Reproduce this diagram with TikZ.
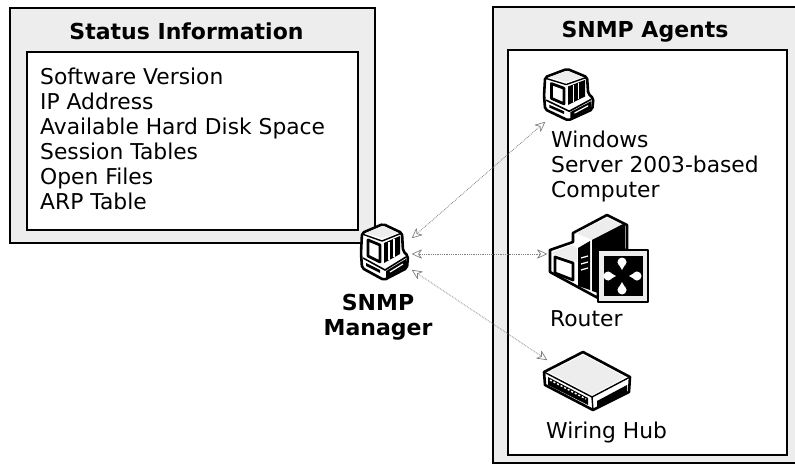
\documentclass[tikz,border=0pt]{standalone}
\usepackage{fontspec}
\setmainfont{DejaVu Sans}
\usetikzlibrary{arrows.meta}
\definecolor{bandgray}{gray}{0.93}
\tikzset{
  x=1pt,y=-1pt,
  band/.style={fill=bandgray,draw=black,line width=1.8pt},
  panel/.style={fill=white,draw=black,line width=2pt},
  titletext/.style={font=\fontsize{22}{25}\selectfont\bfseries,inner sep=0pt},
  bodytext/.style={font=\fontsize{21.8}{25}\selectfont,inner sep=0pt,align=left,text=black},
  anchorbox/.style={inner sep=0pt,outer sep=0pt,minimum width=#1},
  link/.style={draw=black!50,line width=0.8pt,densely dotted,
    {Stealth[open,length=11pt,width=10pt,line width=0.7pt,round]}-{Stealth[open,length=11pt,width=10pt,line width=0.7pt,round]}},
  iconline/.style={draw=black,line width=2.6pt,line join=round},
  computer/.pic={
    \path[iconline,fill=white,rounded corners=2pt] (2,10)--(23,1)--(42,10)--(43,28)--(48,33)--(47,45)--(24,57)--(2,45)--(1,30)--cycle;
    \path[draw=black,line width=1.4pt,line join=round] (2,11)--(22,18)--(42,10);
    \path[fill=bandgray] (6,10)--(23,3)--(38,10)--(22,15)--cycle;
    \path[draw=black,line width=2.8pt,fill=white,line join=round] (8,17)--(20,22)--(20,39)--(8,33)--cycle;
    \path[fill=black] (24,20)--(40,13)--(40,31)--(24,40)--cycle;
    \path[draw=white,line width=1.5pt] (29,19)--(29,37) (34,16)--(34,34);
    \path[draw=black,line width=1.6pt] (3,35)--(25,47)--(46,34);
    \path[fill=black] (26,48)--(46,36)--(46,44)--(26,55)--cycle;
    \path[draw=white,line width=1.2pt] (30,49)--(43,41);
    \path[fill=black] (6,40)--(20,47)--(20,50)--(6,43)--cycle;
  }
}
\begin{document}
\begin{tikzpicture}
\useasboundingbox (0,0) rectangle (795,465);
% bands and panels
\path[band] (10,8) rectangle (375,243);
\path[panel] (27,52) rectangle (358,230);
\path[fill=bandgray] (493,7) rectangle (795,463);
\path[draw=black,line width=1.8pt] (795,7)--(493,7)--(493,463)--(795,463);
\path[panel] (508,50) rectangle (787,455);
% texts
\node[titletext,anchor=base] (statustitle) at (186.5,39.5) {Status Information};
\node[titletext,anchor=base] (agentstitle) at (645,37.5) {SNMP Agents};
\node[bodytext,anchor=north west] (statuslist) at (40,68) {Software Version\\IP Address\\Available Hard Disk Space\\Session Tables\\Open Files\\ARP Table};
\node[bodytext,anchor=north west] (pclabel) at (551,130.5) {Windows\\Server 2003-based\\Computer};
\node[bodytext,anchor=base west] (routerlabel) at (550,326) {Router};
\node[bodytext,anchor=base west] (hublabel) at (546,438) {Wiring Hub};
\node[titletext,align=center,anchor=north] (mgrlabel) at (378,294) {SNMP\\Manager};
% anchor boxes of the icons
\node[anchorbox=56,minimum height=32] (mgr) at (384,254) {};
\node[anchorbox=50,minimum height=54] (pc) at (570,95) {};
\node[anchorbox=103,minimum height=98] (router) at (598.5,254) {};
\node[anchorbox=85,minimum height=52] (hub) at (589.5,386) {};
% connectors
\draw[link] (mgr.north east) -- (pc.south west);
\draw[link] (mgr.east) -- (router.west);
\draw[link] (mgr.south east) -- (hub.north west);
% icons
\pic at (360,223) {computer};
\pic[xscale=1.05,yscale=0.92] at (543,68) {computer};
% router
\path[iconline,fill=white] (573,233)--(607,215)--(627,225)--(627,250)--(598,250)--(598,298)--(550,272)--(550,250)--(573,242)--cycle;
\path[fill=bandgray] (576,233)--(607,218)--(623,225)--(592,240)--cycle;
\path[fill=bandgray] (553,252)--(572,245)--(577,248)--(577,262)--(553,254)--cycle;
\path[fill=black] (578,248)--(590,241)--(590,290)--(578,286)--cycle;
\path[fill=black] (592,240)--(625,223)--(625,250)--(598,250)--(598,293)--(592,291)--cycle;
\path[draw=white,line width=1.3pt] (581,258)--(588,256) (581,264)--(588,262) (581,270)--(588,268);
\path[draw=black,line width=2.8pt,fill=white,line join=round] (555,257)--(573,263)--(573,280)--(555,273)--cycle;
\path[iconline,fill=bandgray] (598,250) rectangle (648,302);
\path[fill=black] (604,256) rectangle (643,296);
\path[fill=white] (622,262) circle (4.5) (622,290) circle (4.5) (608,276) circle (4.5) (637,276) circle (4.5);
\path[fill=white] (617.5,262)--(626.5,262)--(622,270)--cycle (617.5,290)--(626.5,290)--(622,282)--cycle (608,271.5)--(608,280.5)--(616,276)--cycle (637,271.5)--(637,280.5)--(629,276)--cycle;
% hub
\path[iconline,fill=white] (544,372)--(583,352)--(630,377)--(629,392)--(593,410)--(545,385)--cycle;
\path[fill=bandgray] (549,372)--(583,355)--(625,377)--(592,395)--cycle;
\path[draw=black,line width=1.4pt] (544,372)--(592,397)--(630,377) (592,397)--(593,410);
\path[fill=black] (548,377)--(588,398)--(588,405)--(548,385)--cycle;
\path[draw=white,line width=1.4pt,dash pattern=on 2pt off 2pt] (550,380)--(586,399);
\path[fill=black] (597,401)--(627,385)--(627,392)--(597,407)--cycle;
\end{tikzpicture}
\end{document}
